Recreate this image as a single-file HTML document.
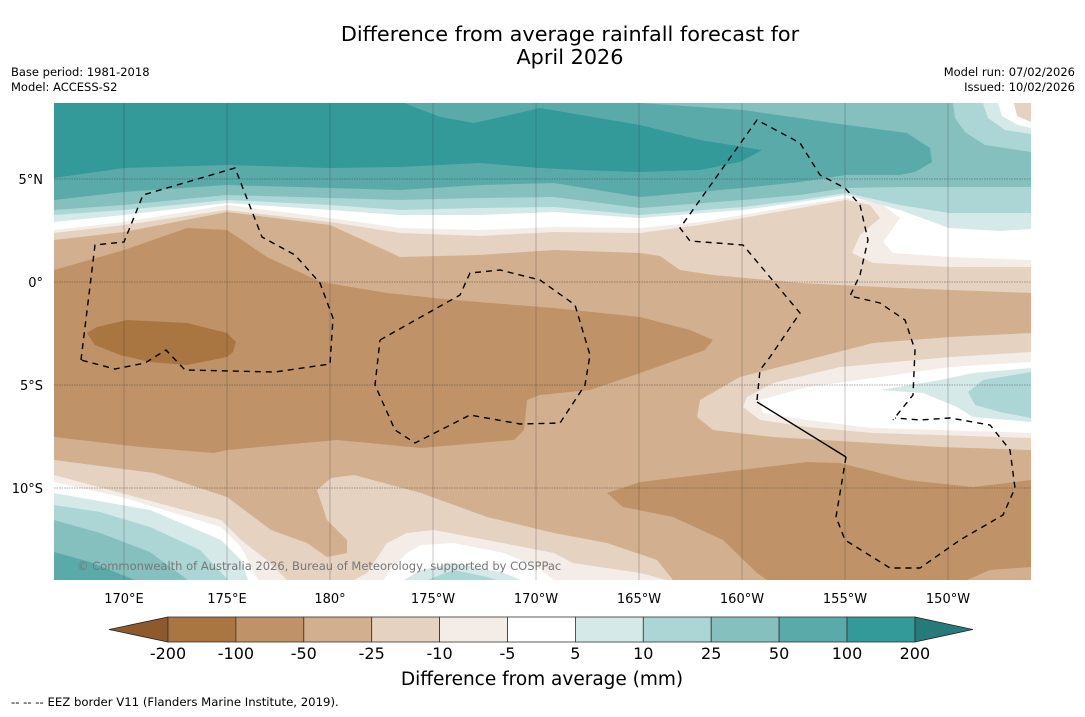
<!DOCTYPE html>
<html><head><meta charset="utf-8">
<style>
html,body{margin:0;padding:0;background:#fff;}
body{width:1085px;height:713px;overflow:hidden;font-family:"DejaVu Sans","Liberation Sans",sans-serif;}
svg text{font-family:"DejaVu Sans","Liberation Sans",sans-serif;}
</style></head>
<body>
<svg id="chart" width="1085" height="713" viewBox="0 0 1085 713" xmlns="http://www.w3.org/2000/svg">
<rect x="0" y="0" width="1085" height="713" fill="#fff"/>
<text x="570" y="41" font-size="20.8" text-anchor="middle" fill="#000">Difference from average rainfall forecast for</text>
<text x="570" y="64" font-size="20.8" text-anchor="middle" fill="#000">April 2026</text>
<text x="11" y="76" font-size="11.5" fill="#000">Base period: 1981-2018</text>
<text x="11" y="91" font-size="11.5" fill="#000">Model: ACCESS-S2</text>
<text x="1075" y="76" font-size="11.5" text-anchor="end" fill="#000">Model run: 07/02/2026</text>
<text x="1075" y="91" font-size="11.5" text-anchor="end" fill="#000">Issued: 10/02/2026</text>
<defs><clipPath id="mapclip"><rect x="54" y="103" width="977" height="477"/></clipPath></defs>
<g id="map" clip-path="url(#mapclip)"></g>
<g id="grid"></g>
<g id="eez" clip-path="url(#mapclip)"></g>
<text x="77" y="570" font-size="11.5" fill="#777">© Commonwealth of Australia 2026, Bureau of Meteorology, supported by COSPPac</text>
<g id="axes"></g>
<g id="cbar"></g>
<text x="542" y="685" font-size="18.5" text-anchor="middle" fill="#000">Difference from average (mm)</text>
<text x="11" y="706" font-size="11.7" fill="#000">--  --  -- EEZ border V11 (Flanders Marine Institute, 2019).</text>
</svg>
<script>
// ---- colorbar data ----
const levels = [-200,-100,-50,-25,-10,-5,5,10,25,50,100,200];
const binColors = ["#a97540","#bf9367","#d2b08f","#e5d2c1","#f4ece6","#ffffff","#d5e9e8","#acd6d5","#85c0bf","#5baaaa","#339999"];
const underColor = "#8f5a2b";
const overColor = "#267b7a";
// ---- axis data ----
const lonLabels = ["170°E","175°E","180°","175°W","170°W","165°W","160°W","155°W","150°W"];
const lonValues = [170,175,180,185,190,195,200,205,210];
const latLabels = ["5°N","0°","5°S","10°S"];
const latValues = [5,0,-5,-10];

const NS="http://www.w3.org/2000/svg";
const svg=document.getElementById('chart');
function xLon(l){return 124+(l-170)*20.6;}
function yLat(l){return 282-l*20.6;}
function mk(tag,attrs,parent){const e=document.createElementNS(NS,tag);for(const k in attrs)e.setAttribute(k,attrs[k]);parent.appendChild(e);return e;}

// ---- map fills ----
const map=document.getElementById('map');
function poly(pts,color,name){
  const e=mk('polygon',{points:pts.map(p=>p.join(',')).join(' '),fill:color},map);
  
  
}
function topBand(pts,color,name){
  poly([[54,103],[1031,103]].concat(pts.slice().reverse()),color,name);
}
const C={c200:"#a97540",c100:"#bf9367",c50:"#d2b08f",c25:"#e5d2c1",c10:"#f4ece6",w:"#ffffff",p5:"#d5e9e8",p10:"#acd6d5",p25:"#85c0bf",p50:"#5baaaa",p100:"#339999"};
poly([[54,103],[1031,103],[1031,580],[54,580]],C.c50,'base-fill');
topBand([[54,240],[124,232],[227,212],[330,225],[400,257],[480,255],[554,250],[640,253],[660,256],[680,270],[713,275],[800,283],[900,288],[1031,293]],C.c25,'band-minus10-25-top');
topBand([[54,233],[124,225],[227,210],[330,222],[400,233],[480,236],[554,232],[640,233],[700,225],[743,218],[800,208],[846,200],[870,205],[880,218],[860,235],[852,253],[873,263],[950,267],[1031,267]],C.c10,'band-minus5-10-top');
topBand([[54,230],[124,222],[227,205],[330,218],[400,228],[480,230],[554,227],[640,228],[700,222],[743,215],[800,205],[846,198],[880,203],[900,218],[883,242],[893,253],[950,257],[1031,260]],C.w,'band-white-top');
topBand([[54,222],[124,215],[227,203],[330,210],[400,215],[480,215],[554,212],[640,218],[743,210],[800,202],[846,195],[900,210],[949,228],[1000,231],[1031,229]],C.p5,'band-5-10-top');
topBand([[54,215],[124,210],[227,200],[330,205],[400,210],[480,208],[554,207],[640,215],[743,207],[800,200],[846,193],[900,205],[949,213],[1031,213]],C.p10,'band-10-25-top');
topBand([[54,210],[124,205],[227,195],[330,198],[400,200],[480,198],[554,197],[640,208],[743,200],[800,195],[846,188],[900,187],[949,187],[1031,187]],C.p25,'band-25-50-top');
poly([[54,103],[640,103],[743,110],[847,125],[907,133],[930,148],[932,162],[915,172],[900,175],[846,175],[800,182],[743,188],[640,197],[554,183],[480,185],[400,190],[330,188],[227,185],[124,192],[54,200]],C.p50,'band-50-100-top');
poly([[54,103],[404,103],[440,117],[474,123],[510,115],[540,108],[640,125],[700,140],[762,150],[740,162],[700,170],[640,172],[580,170],[540,168],[480,163],[400,167],[330,168],[227,165],[124,168],[54,178]],C.p100,'band-100-200-top');
// top right corner
poly([[953,103],[955,118],[965,132],[985,145],[1031,152],[1031,103]],C.p10,'corner-10-25');
poly([[983,103],[988,118],[1005,130],[1031,134],[1031,103]],C.p5,'corner-5-10');
poly([[998,103],[1002,116],[1018,125],[1031,128],[1031,103]],C.w,'corner-white');
poly([[1014,103],[1017,116],[1031,122],[1031,103]],C.c25,'corner-tan');
// central mid-brown
poly([[54,270],[124,250],[187,228],[227,230],[267,257],[321,282],[387,293],[454,300],[554,308],[640,317],[690,330],[713,340],[705,350],[640,373],[590,390],[540,395],[527,400],[524,430],[514,440],[421,448],[337,440],[227,450],[214,453],[140,447],[54,437]],C.c100,'central-minus50-100');
poly([[87,333],[97,327],[127,320],[187,323],[227,333],[236,342],[233,352],[227,357],[187,365],[150,362],[120,355],[95,345]],C.c200,'blob-minus100-200');
// bottom right mid-brown
poly([[607,493],[640,482],[740,470],[807,462],[840,463],[907,480],[973,487],[1031,480],[1031,567],[990,570],[967,580],[767,580],[757,573],[723,540],[673,517],[623,507]],C.c100,'bottomright-minus50-100');
// right tongue
poly([[1031,333],[950,337],[873,343],[807,360],[740,377],[700,400],[697,417],[713,430],[773,437],[873,443],[940,447],[1031,450]],C.c25,'tongue-minus10-25');
poly([[1031,352],[950,357],[840,367],[773,383],[747,397],[743,407],[760,420],[807,427],[873,433],[1031,438]],C.c10,'tongue-minus5-10');
poly([[1031,362],[950,367],[873,378],[807,387],[760,400],[763,413],[807,420],[873,428],[1031,433]],C.w,'tongue-white');
poly([[1031,368],[973,373],[940,380],[880,390],[923,393],[957,407],[973,417],[1031,422]],C.p5,'tongue-5-10');
poly([[1031,372],[983,380],[968,392],[975,405],[1000,412],[1031,418]],C.p10,'tongue-10-25');
// bottom bands
poly([[54,460],[154,473],[227,497],[271,530],[307,543],[327,557],[347,553],[347,540],[327,520],[317,490],[331,478],[354,475],[421,493],[487,517],[554,533],[607,543],[657,560],[673,580],[54,580]],C.c25,'band-minus10-25-bottom');
poly([[54,475],[121,493],[221,520],[241,540],[267,560],[287,580],[54,580]],C.c10,'band-minus5-10-bottomleft');
poly([[54,482],[121,497],[221,527],[241,547],[258,580],[54,580]],C.w,'band-white-bottomleft');
poly([[54,493],[150,510],[221,540],[241,560],[248,580],[54,580]],C.p5,'band-5-10-bottomleft');
poly([[54,505],[100,512],[150,527],[200,550],[228,580],[54,580]],C.p10,'band-10-25-bottomleft');
poly([[54,520],[100,533],[150,552],[188,580],[54,580]],C.p25,'band-25-50-bottomleft');
poly([[54,552],[90,562],[135,580],[54,580]],C.p50,'band-50-100-bottomleft');
poly([[354,580],[367,573],[387,543],[407,533],[434,530],[487,540],[554,553],[573,563],[640,573],[667,580]],C.c10,'band-minus5-10-bottom');
poly([[384,580],[387,573],[407,553],[421,545],[454,543],[504,553],[537,567],[554,580]],C.w,'band-white-bottom');
poly([[404,580],[421,570],[454,563],[504,573],[521,580]],C.p5,'band-5-10-bottom');
poly([[427,580],[454,570],[487,577],[497,580]],C.p10,'band-10-25-bottom');

// ---- graticule ----
const grid=document.getElementById('grid');
lonValues.forEach(v=>{
  const l=mk('line',{x1:xLon(v),x2:xLon(v),y1:103,y2:580,stroke:'#333','stroke-width':0.5,'stroke-opacity':0.55},grid);
  
  
});
latValues.forEach(v=>{
  const l=mk('line',{x1:54,x2:1031,y1:yLat(v),y2:yLat(v),stroke:'#333','stroke-width':0.5,'stroke-dasharray':'1.5,1','stroke-opacity':0.8},grid);
  
  
});

// ---- EEZ ----
const eez=document.getElementById('eez');
function dline(pts,dash,name){
  const e=mk('polyline',{points:pts.map(p=>p.join(',')).join(' '),fill:'none',stroke:'#000','stroke-width':1.4,'stroke-dasharray':dash},eez);
  
  
}
dline([[81,360],[95,245],[124,242],[143,195],[235,168],[262,237],[295,255],[320,283],[333,318],[330,364],[275,372],[185,370],[166,350],[145,363],[115,369],[81,360]],'6,5','eez-kiribati-gilbert');
dline([[380,340],[460,295],[470,273],[500,270],[540,280],[575,305],[590,355],[585,385],[560,423],[520,424],[470,415],[415,443],[395,430],[375,385],[380,340]],'6,5','eez-phoenix');
dline([[757,400],[760,370],[770,357],[800,313],[743,245],[690,241],[680,228],[757,120],[800,143],[820,175],[845,188],[860,205],[868,240],[860,275],[850,296],[880,303],[905,320],[915,350],[913,395],[893,420]],'6,5','eez-line-islands');
dline([[757,402],[846,457]],'none','eez-solid-segment');
dline([[846,457],[836,517],[845,540],[890,568],[920,568],[960,540],[1003,515],[1015,488],[1010,450],[990,425],[950,418],[920,420],[895,418]],'6,5','eez-southern');

// ---- axis labels ----
const axes=document.getElementById('axes');
lonLabels.forEach((t,i)=>{
  const e=mk('text',{x:xLon(lonValues[i]),y:603,'font-size':13,'text-anchor':'middle',fill:'#000'},axes);
  e.textContent=t;
  
  
});
latLabels.forEach((t,i)=>{
  const e=mk('text',{x:43,y:yLat(latValues[i])+5,'font-size':13,'text-anchor':'end',fill:'#000'},axes);
  e.textContent=t;
  
  
});

// ---- colorbar ----
const cbar=document.getElementById('cbar');
const cbX0=168, cbW=67.9, cbY0=617, cbH=25;
function cbx(i){return cbX0+i*cbW;}
const under=mk('polygon',{points:`${cbx(0)},${cbY0} ${cbx(0)},${cbY0+cbH} 109,${cbY0+cbH/2}`,fill:underColor,stroke:'#222','stroke-width':0.8},cbar);


const nb=binColors.length;
const over=mk('polygon',{points:`${cbx(nb)},${cbY0} ${cbx(nb)},${cbY0+cbH} ${cbx(nb)+58},${cbY0+cbH/2}`,fill:overColor,stroke:'#222','stroke-width':0.8},cbar);


binColors.forEach((c,i)=>{
  const r=mk('rect',{x:cbx(i),y:cbY0,width:cbW,height:cbH,fill:c,stroke:'#333','stroke-width':0.8},cbar);
  
  
});
levels.forEach((v,i)=>{
  const t=mk('text',{x:cbx(i),y:659,'font-size':16,'text-anchor':'middle',fill:'#000'},cbar);
  t.textContent=String(v);
  
  
});
</script>
</body></html>
